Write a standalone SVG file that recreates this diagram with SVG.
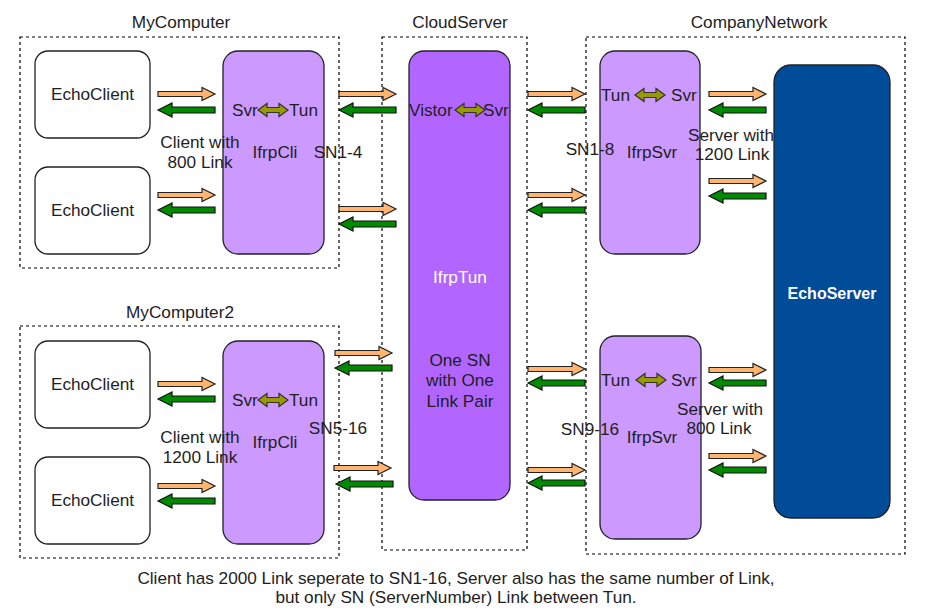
<svg xmlns="http://www.w3.org/2000/svg" width="929" height="615" viewBox="0 0 929 615">
<defs>
<style>
.t{font-family:"Liberation Sans",Arial,sans-serif;font-size:17.2px;fill:#1e1e1e;}
.c{text-anchor:middle;}
.w{fill:#fff;}
.box{fill:none;stroke:#000;stroke-width:1.2;stroke-dasharray:3 3;}
.ec{fill:#fff;stroke:#222;stroke-width:1.3;}
.lp{fill:#CC99FF;stroke:#222;stroke-width:1.3;}
.dp{fill:#B266FF;stroke:#222;stroke-width:1.3;}
.bl{fill:#004C99;stroke:#222;stroke-width:1.3;}
.or{fill:#FFB570;stroke:#222;stroke-width:1.2;}
.gr{fill:#008A00;stroke:#111;stroke-width:1.2;}
.ol{fill:#999900;stroke:#333;stroke-width:1.2;}
</style>
<path id="ora" class="or" d="M0,-2.5 H44 V-6.5 L57,0 L44,6.5 V2.5 H0 Z"/>
<path id="gra" class="gr" d="M0,0 L14,-7 V-3 H57 V3 H14 V7 Z"/>
<path id="dbl" class="ol" d="M0,0 L9,-6.5 V-2.5 H21 V-6.5 L30,0 L21,6.5 V2.5 H9 V6.5 Z"/>
</defs>
<rect width="929" height="615" fill="#fff"/>

<g id="MyComputer">
<rect class="box" x="20" y="37" width="319" height="231"/>
<text class="t c" x="181" y="28">MyComputer</text>
</g>
<g id="MyComputer2">
<rect class="box" x="20" y="326" width="319" height="232"/>
<text class="t c" x="180" y="318">MyComputer2</text>
</g>
<g id="CloudServer">
<rect class="box" x="382" y="37" width="145" height="513"/>
<text class="t c" x="460" y="28">CloudServer</text>
</g>
<g id="CompanyNetwork">
<rect class="box" x="586" y="37" width="319" height="517"/>
<text class="t c" x="759" y="28">CompanyNetwork</text>
</g>

<g id="EchoClient1"><rect class="ec" x="35" y="51" width="115" height="87" rx="13"/><text class="t c" x="92.5" y="100">EchoClient</text></g>
<g id="EchoClient2"><rect class="ec" x="35" y="167" width="115" height="87" rx="13"/><text class="t c" x="92.5" y="216">EchoClient</text></g>
<g id="EchoClient3"><rect class="ec" x="35" y="341" width="115" height="87" rx="13"/><text class="t c" x="92.5" y="390">EchoClient</text></g>
<g id="EchoClient4"><rect class="ec" x="35" y="457" width="115" height="87" rx="13"/><text class="t c" x="92.5" y="506">EchoClient</text></g>

<g id="IfrpCli1">
<rect class="lp" x="223" y="51" width="101" height="203" rx="15"/>
<text class="t" x="232" y="116">Svr</text>
<use href="#dbl" x="258" y="110"/>
<text class="t" x="289" y="116">Tun</text>
<text class="t c" x="275" y="158">IfrpCli</text>
</g>
<g id="IfrpCli2">
<rect class="lp" x="223" y="341" width="101" height="203" rx="15"/>
<text class="t" x="232" y="406">Svr</text>
<use href="#dbl" x="258" y="400"/>
<text class="t" x="289" y="406">Tun</text>
<text class="t c" x="275" y="448">IfrpCli</text>
</g>

<g id="IfrpTun">
<rect class="dp" x="409" y="51" width="101" height="449" rx="15"/>
<text class="t" x="409" y="116">Vistor</text>
<use href="#dbl" x="455" y="110"/>
<text class="t" x="483" y="116">Svr</text>
<text class="t c w" x="460" y="283">IfrpTun</text>
<text class="t c" x="460" y="366">One SN</text>
<text class="t c" x="460" y="386">with One</text>
<text class="t c" x="460" y="407">Link Pair</text>
</g>

<g id="IfrpSvr1">
<rect class="lp" x="600" y="51" width="100" height="203" rx="15"/>
<text class="t" x="601" y="101">Tun</text>
<use href="#dbl" x="635" y="95"/>
<text class="t" x="671" y="101">Svr</text>
<text class="t c" x="652" y="158">IfrpSvr</text>
</g>
<g id="IfrpSvr2">
<rect class="lp" x="600" y="336" width="101" height="203" rx="15"/>
<text class="t" x="601" y="386">Tun</text>
<use href="#dbl" x="636" y="380"/>
<text class="t" x="671" y="386">Svr</text>
<text class="t c" x="652" y="443">IfrpSvr</text>
</g>

<g id="EchoServer">
<rect class="bl" x="774" y="65" width="116" height="453" rx="17"/>
<text class="t c w" x="832" y="299" font-weight="bold" style="font-size:16px">EchoServer</text>
</g>

<g id="connectors">
<use href="#ora" x="158" y="94"/><use href="#gra" x="158" y="110"/>
<use href="#ora" x="158" y="195"/><use href="#gra" x="158" y="210"/>
<use href="#ora" x="158" y="384"/><use href="#gra" x="158" y="399"/>
<use href="#ora" x="158" y="486"/><use href="#gra" x="158" y="501"/>
<use href="#ora" x="339" y="94"/><use href="#gra" x="339" y="110"/>
<use href="#ora" x="339" y="209"/><use href="#gra" x="339" y="224"/>
<use href="#ora" x="335" y="353"/><use href="#gra" x="335" y="368"/>
<use href="#ora" x="334" y="468"/><use href="#gra" x="336" y="484"/>
<use href="#ora" x="528" y="94"/><use href="#gra" x="528" y="110"/>
<use href="#ora" x="528" y="195"/><use href="#gra" x="528" y="210"/>
<use href="#ora" x="528" y="369"/><use href="#gra" x="528" y="383"/>
<use href="#ora" x="528" y="470"/><use href="#gra" x="528" y="483"/>
<use href="#ora" x="709" y="94"/><use href="#gra" x="709" y="110"/>
<use href="#ora" x="709" y="181"/><use href="#gra" x="709" y="196"/>
<use href="#ora" x="709" y="370"/><use href="#gra" x="709" y="383"/>
<use href="#ora" x="709" y="456"/><use href="#gra" x="709" y="470"/>
</g>

<g id="labels">
<text class="t c" x="200" y="148">Client with</text>
<text class="t c" x="200" y="168">800 Link</text>
<text class="t c" x="338" y="158">SN1-4</text>
<text class="t c" x="590" y="155">SN1-8</text>
<text class="t c" x="731" y="141">Server with</text>
<text class="t c" x="732" y="160">1200 Link</text>
<text class="t c" x="200" y="443">Client with</text>
<text class="t c" x="200" y="463">1200 Link</text>
<text class="t c" x="338" y="434">SN5-16</text>
<text class="t c" x="590" y="435">SN9-16</text>
<text class="t c" x="720" y="415">Server with</text>
<text class="t c" x="719" y="434">800 Link</text>
<text class="t c" x="456" y="584">Client has 2000 Link seperate to SN1-16, Server also has the same number of Link,</text>
<text class="t c" x="456" y="603">but only SN (ServerNumber) Link between Tun.</text>
</g>
</svg>
